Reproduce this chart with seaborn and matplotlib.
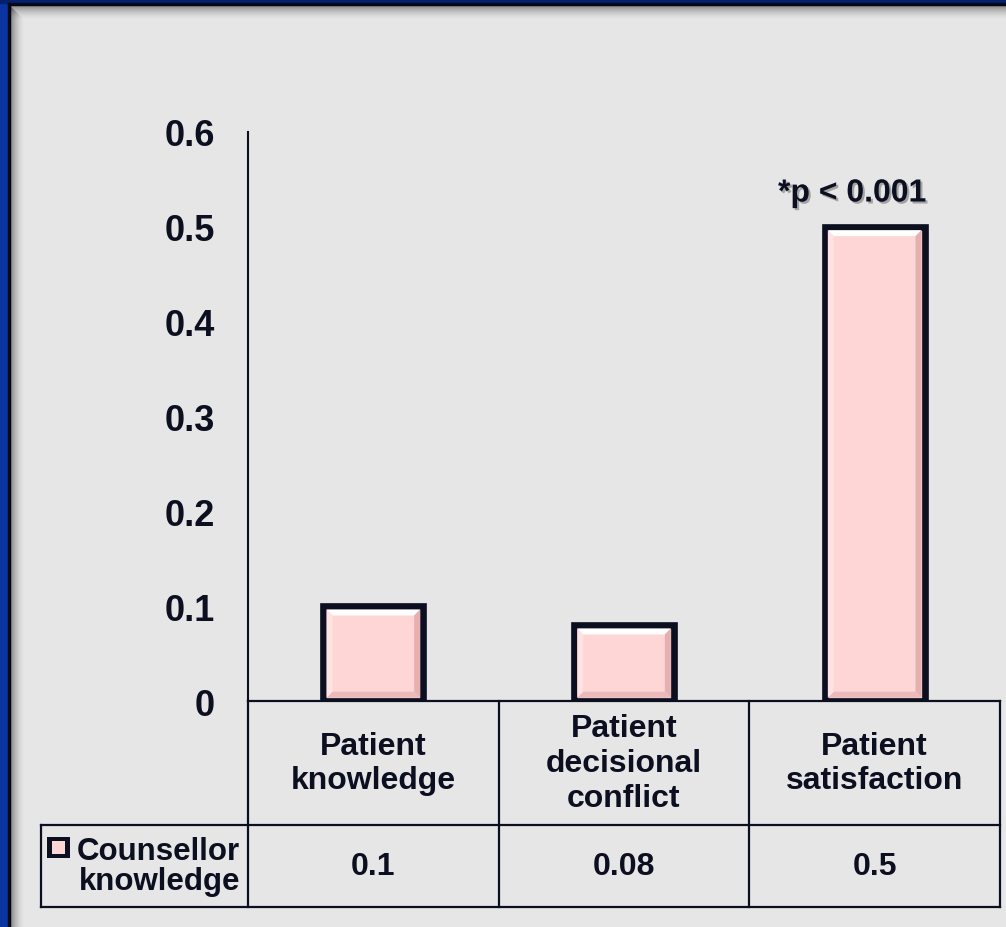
import numpy as np
import pandas as pd
import matplotlib
matplotlib.use("Agg")
import matplotlib.pyplot as plt
import matplotlib.patheffects as pe
from matplotlib.patches import Rectangle, Polygon
from matplotlib.transforms import IdentityTransform
import seaborn as sns

# ---- data -------------------------------------------------------------
categories = ["Patient\nknowledge", "Patient\ndecisional\nconflict", "Patient\nsatisfaction"]
values = [0.1, 0.08, 0.5]
series_name = "Counsellor\nknowledge"
y_ticks = [0, 0.1, 0.2, 0.3, 0.4, 0.5, 0.6]
y_tick_labels = ["0", "0.1", "0.2", "0.3", "0.4", "0.5", "0.6"]
annotation = "*p < 0.001"
annotated_index = 2

# ---- style ------------------------------------------------------------
W, H, DPI = 1006, 928, 100
BG = "#e6e6e6"
INK = "#0b0f1f"
FILL = "#ffd6d6"
FS = 23

sns.set_theme(style="white")
plt.rcParams["font.family"] = ["Liberation Sans", "DejaVu Sans"]
plt.rcParams["font.weight"] = "bold"

fig = plt.figure(figsize=(W / DPI, H / DPI), dpi=DPI, facecolor=BG)


def fx(px):
    return px / W


def fy(py):
    return 1 - py / H


# ---- slide frame: blue bands, dark rule and soft inner shadow ----------
fig.patches.append(Rectangle((0, 0), fx(8), 1, transform=fig.transFigure,
                             color="#0a34a0", zorder=0))
fig.patches.append(Rectangle((0, fy(4)), 1, 4 / H, transform=fig.transFigure,
                             color="#03216f", zorder=0))
fig.patches.append(Rectangle((fx(8), 0), 2 / W, fy(4), transform=fig.transFigure,
                             color="#05091a", zorder=0))
fig.patches.append(Rectangle((fx(8), fy(6)), 1, 2 / H, transform=fig.transFigure,
                             color="#05091a", zorder=0))
n_shadow = 14
for i in range(n_shadow):
    a = 0.42 * (1 - i / n_shadow) ** 1.6
    fig.patches.append(Rectangle((fx(10), fy(7 + i)), 1, 1 / H,
                                 transform=fig.transFigure, color="black",
                                 alpha=a, lw=0, zorder=0))
    fig.patches.append(Rectangle((fx(10 + i), 0), 1 / W, fy(7 + i),
                                 transform=fig.transFigure, color="black",
                                 alpha=a, lw=0, zorder=0))

# ---- plot area ----------------------------------------------------------
ax = fig.add_axes([fx(248), fy(702), (1000 - 248) / W, (702 - 133) / H])
ax.set_facecolor("none")

df = pd.DataFrame({"category": categories, "value": values})
sns.barplot(data=df, x="category", y="value", ax=ax, color=FILL, width=0.4,
            saturation=1, edgecolor=INK, linewidth=4.8, zorder=3)

ax.set_xlim(-0.5, len(categories) - 0.5)
ax.set_ylim(0, 0.6)
ax.set_xticks([])
ax.set_xlabel("")
ax.set_ylabel("")
ax.set_yticks(y_ticks, y_tick_labels)
ax.tick_params(axis="y", length=0, pad=24, labelsize=26, labelcolor=INK)
for lbl in ax.get_yticklabels():
    lbl.set_fontweight("bold")
for side in ["top", "right", "bottom"]:
    ax.spines[side].set_visible(False)
ax.spines["left"].set_color(INK)
ax.spines["left"].set_linewidth(1.5)

# bevelled look on each bar, built from the bar rectangles themselves
fig.canvas.draw()
half_edge, bev = 3.3, 6
for p in ax.patches:
    (x0, y0), (x1, y1) = ax.transData.transform(
        [(p.get_x(), p.get_y()), (p.get_x() + p.get_width(), p.get_y() + p.get_height())])
    ix0, ix1 = x0 + half_edge, x1 - half_edge
    iy0, iy1 = y0 + half_edge, y1 - half_edge
    faces = [
        ([(ix0, iy1), (ix1, iy1), (ix1 - bev, iy1 - bev), (ix0 + bev, iy1 - bev)], "#ffffff"),
        ([(ix1, iy1), (ix1, iy0), (ix1 - bev, iy0 + bev), (ix1 - bev, iy1 - bev)], "#e6b0b0"),
        ([(ix0, iy0), (ix1, iy0), (ix1 - bev, iy0 + bev), (ix0 + bev, iy0 + bev)], "#ecbaba"),
        ([(ix0, iy0), (ix0, iy1), (ix0 + bev, iy1 - bev), (ix0 + bev, iy0 + bev)], "#ffe3e3"),
    ]
    for pts, col in faces:
        ax.add_artist(Polygon(pts, closed=True, transform=IdentityTransform(),
                              facecolor=col, edgecolor="none", zorder=3.5,
                              clip_on=False))

# significance note above the highlighted bar
ax.annotate(annotation, xy=(annotated_index, values[annotated_index]),
            xytext=(-16, 24), textcoords="offset points", ha="center",
            va="center", fontsize=FS, fontweight="bold", color=INK,
            annotation_clip=False,
            path_effects=[pe.SimplePatchShadow(offset=(1.5, -1.5),
                                               shadow_rgbFace="#777777", alpha=0.6),
                          pe.Normal()])

# ---- data table under the axis -------------------------------------------
hdr_bot = -(826 - 702) / (702 - 133)
row_bot = -(908 - 702) / (702 - 133)
lab_left = -(248 - 41) / (1000 - 248)
lw_tab = 1.6
ta = ax.transAxes
ncat = len(categories)


def hline(y, xa, xb):
    ax.plot([xa, xb], [y, y], transform=ta, color=INK, lw=lw_tab, clip_on=False,
            solid_capstyle="projecting", zorder=4)


def vline(x, ya, yb):
    ax.plot([x, x], [ya, yb], transform=ta, color=INK, lw=lw_tab, clip_on=False,
            solid_capstyle="projecting", zorder=4)


hline(0, 0, 1)
hline(hdr_bot, lab_left, 1)
hline(row_bot, lab_left, 1)
for k in range(ncat + 1):
    vline(k / ncat, 0, row_bot)
vline(lab_left, hdr_bot, row_bot)

xt = ax.get_xaxis_transform()
for i, cat in enumerate(categories):
    ax.text(i, hdr_bot / 2, cat, transform=xt, ha="center", va="center",
            fontsize=FS, fontweight="bold", color=INK, linespacing=1.2)
    ax.text(i, (hdr_bot + row_bot) / 2, f"{values[i]:g}", transform=xt,
            ha="center", va="center", fontsize=FS, fontweight="bold", color=INK)

ax.text(-(248 - 240) / (1000 - 248), (hdr_bot + row_bot) / 2, series_name,
        transform=ta, ha="right", va="center", fontsize=22.5, fontweight="bold",
        color=INK, linespacing=1.0)

# legend key in the row header
kx = -(248 - 47) / (1000 - 248)
kw = 23 / (1000 - 248)
ky = -(859 - 702) / (702 - 133)
kh = 21 / (702 - 133)
ax.add_patch(Rectangle((kx, ky), kw, kh, transform=ta, facecolor=INK,
                       edgecolor="none", clip_on=False, zorder=4))
ax.add_patch(Rectangle((kx + kw * 0.2, ky + kh * 0.2), kw * 0.6, kh * 0.6,
                       transform=ta, facecolor=FILL, edgecolor="none",
                       clip_on=False, zorder=5))

fig.savefig("out.png", dpi=DPI, facecolor=BG)
